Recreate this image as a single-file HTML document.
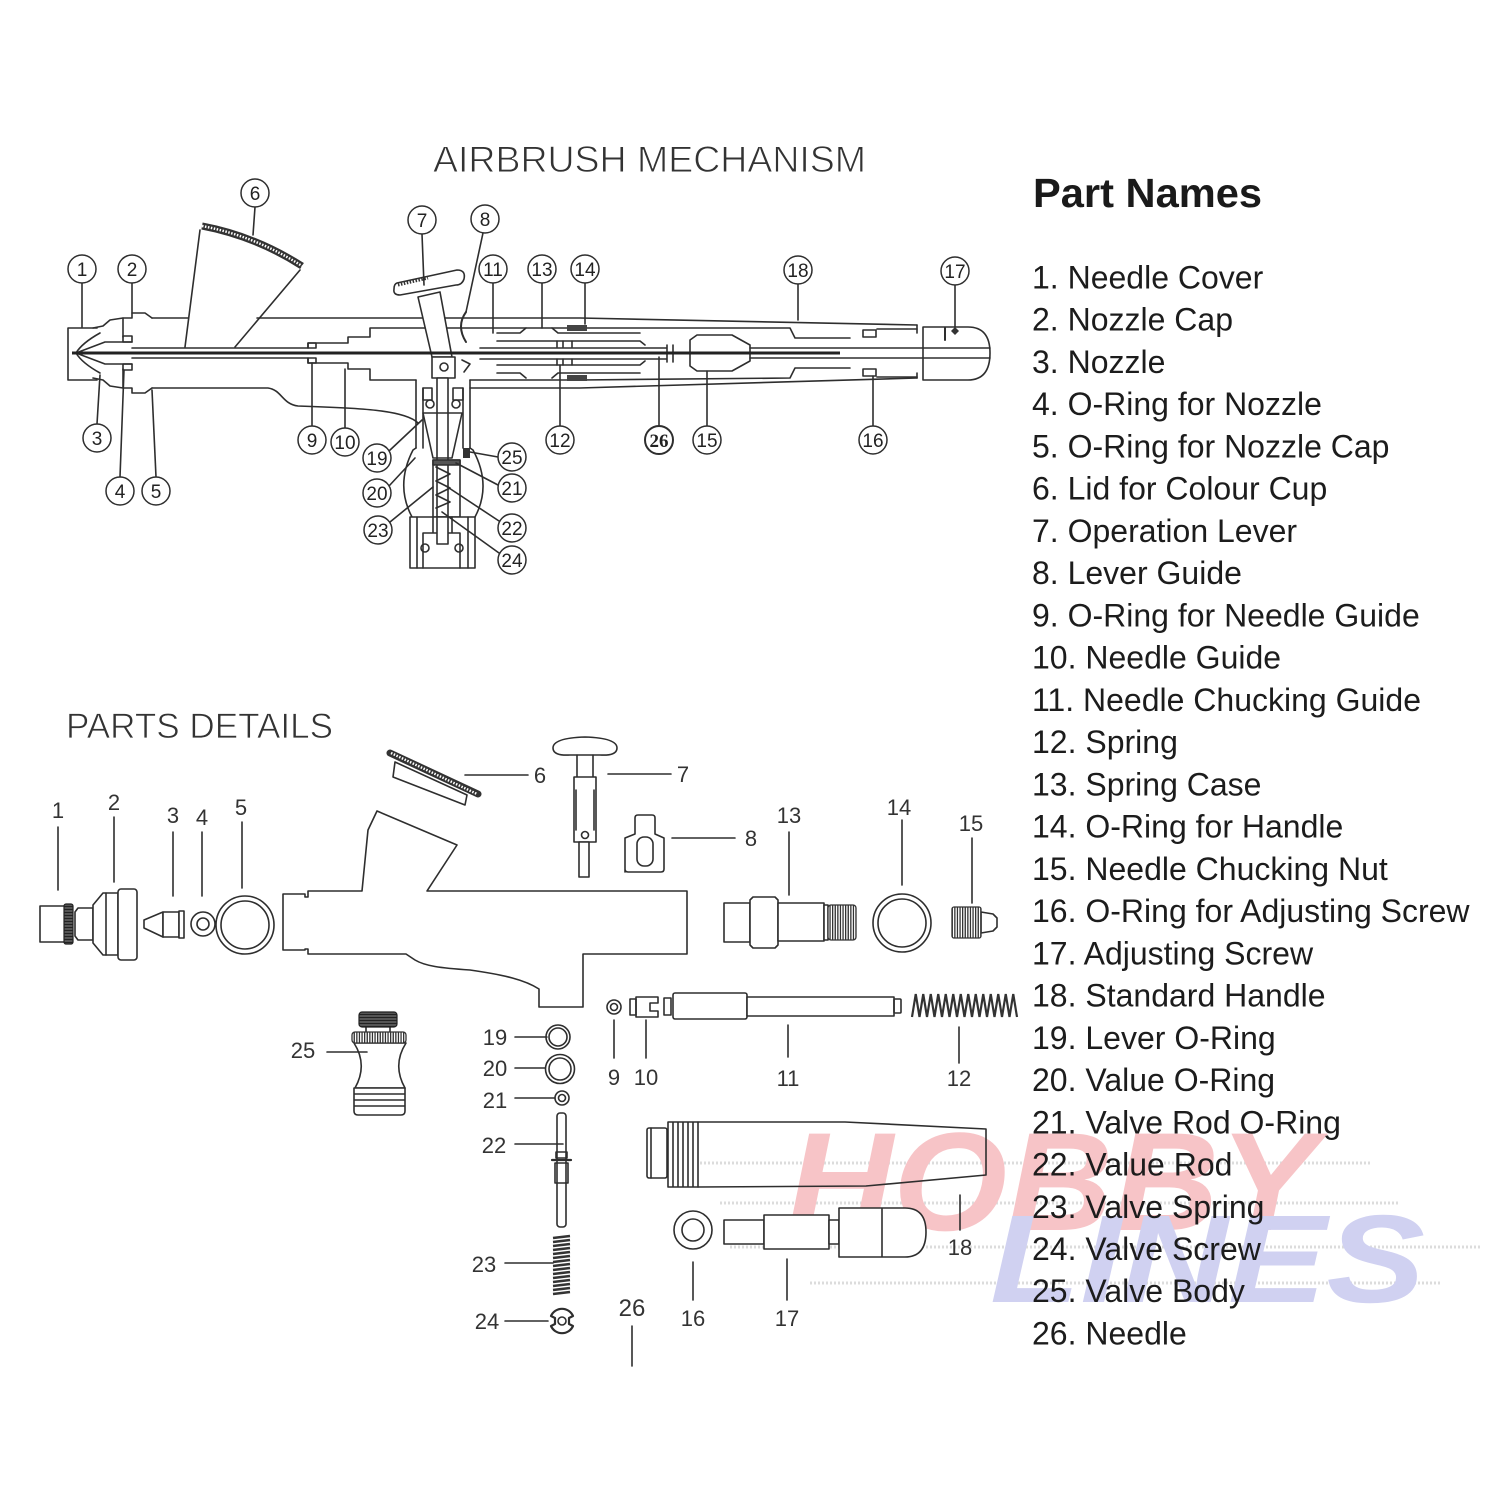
<!DOCTYPE html>
<html><head><meta charset="utf-8">
<style>
html,body{margin:0;padding:0;background:#fff;}
svg{display:block}
.l{fill:none;stroke:#2e2e2e;stroke-width:1.6;stroke-linejoin:round;stroke-linecap:round}
.c{fill:#fff;stroke:#2e2e2e;stroke-width:1.5}
.n{font-family:"Liberation Sans",sans-serif;font-size:19px;fill:#222;text-anchor:middle}
.p{font-family:"Liberation Sans",sans-serif;font-size:22px;fill:#333;text-anchor:middle}
.li{font-family:"Liberation Sans",sans-serif;font-size:32px;fill:#1c1c1c}
</style></head><body>
<svg width="1500" height="1500" viewBox="0 0 1500 1500" xmlns="http://www.w3.org/2000/svg">
<defs>
<pattern id="vk" width="2.6" height="10" patternUnits="userSpaceOnUse"><rect width="2.6" height="10" fill="#fff"/><rect width="1.3" height="10" fill="#333"/></pattern>
<pattern id="hk" width="10" height="3" patternUnits="userSpaceOnUse"><rect width="10" height="3" fill="#555"/><rect width="10" height="1" fill="#222"/></pattern>
</defs>
<rect width="1500" height="1500" fill="#fff"/>

<!-- watermark -->
<g stroke="#dcdcdc" stroke-width="3" stroke-dasharray="2 2">
<line x1="700" y1="1163" x2="1370" y2="1163"/>
<line x1="720" y1="1203" x2="1400" y2="1203"/>
<line x1="730" y1="1247" x2="1480" y2="1247"/>
<line x1="810" y1="1283" x2="1440" y2="1283"/>
</g>
<text x="787" y="1230" font-family="'Liberation Sans',sans-serif" font-size="140" font-weight="bold" font-style="italic" fill="#f7c4c7" textLength="530" lengthAdjust="spacingAndGlyphs">HOBBY</text>
<text x="990" y="1302" font-family="'Liberation Sans',sans-serif" font-size="125" font-weight="bold" font-style="italic" fill="#d0d1f1" textLength="435" lengthAdjust="spacingAndGlyphs">LINES</text>

<!-- titles -->
<text x="433" y="172" font-family="'Liberation Sans',sans-serif" font-size="37" fill="#333" stroke="#fff" stroke-width="0.9" textLength="433" lengthAdjust="spacingAndGlyphs">AIRBRUSH MECHANISM</text>
<text x="66" y="738" font-family="'Liberation Sans',sans-serif" font-size="35" fill="#333" stroke="#fff" stroke-width="0.8" textLength="267" lengthAdjust="spacingAndGlyphs">PARTS DETAILS</text>
<text x="1033" y="207" font-family="'Liberation Sans',sans-serif" font-size="41" font-weight="bold" fill="#1a1a1a" textLength="229" lengthAdjust="spacingAndGlyphs">Part Names</text>

<!-- list -->
<g class="li">
<text x="1032" y="288.5">1. Needle Cover</text>
<text x="1032" y="330.7">2. Nozzle Cap</text>
<text x="1032" y="373">3. Nozzle</text>
<text x="1032" y="415.2">4. O-Ring for Nozzle</text>
<text x="1032" y="457.5">5. O-Ring for Nozzle Cap</text>
<text x="1032" y="499.7">6. Lid for Colour Cup</text>
<text x="1032" y="541.9">7. Operation Lever</text>
<text x="1032" y="584.2">8. Lever Guide</text>
<text x="1032" y="626.4">9. O-Ring for Needle Guide</text>
<text x="1032" y="668.7">10. Needle Guide</text>
<text x="1032" y="710.9">11.  Needle Chucking Guide</text>
<text x="1032" y="753.1">12. Spring</text>
<text x="1032" y="795.4">13. Spring Case</text>
<text x="1032" y="837.6">14. O-Ring for Handle</text>
<text x="1032" y="879.9">15. Needle Chucking Nut</text>
<text x="1032" y="922.1">16. O-Ring for Adjusting Screw</text>
<text x="1032" y="964.3">17. Adjusting Screw</text>
<text x="1032" y="1006.6">18. Standard Handle</text>
<text x="1032" y="1048.8">19. Lever O-Ring</text>
<text x="1032" y="1091">20. Value O-Ring</text>
<text x="1032" y="1133.3">21. Valve Rod O-Ring</text>
<text x="1032" y="1175.5">22. Value Rod</text>
<text x="1032" y="1217.8">23. Valve Spring</text>
<text x="1032" y="1260">24. Valve Screw</text>
<text x="1032" y="1302.2">25. Valve Body</text>
<text x="1032" y="1344.5">26. Needle</text>
</g>

<!-- ================= TOP MECHANISM ================= -->
<g class="l">
<path d="M97,328 L68,328 L68,380 L97,380"/>
<path d="M100,333 Q82,343 76,353 Q82,363 100,373"/>
<path d="M93,328 L103,326 L110,320 L123,318 L132,318 L132,313 L145,313 L152,318"/>
<path d="M93,378 L103,380 L110,386 L123,388 L132,388 L132,393 L145,393 L152,388"/>
<path d="M123,318 L123,337 M123,369 L123,388"/>
<path d="M76,353 L105,342 L132,342 M76,353 L105,364 L132,364"/>
<rect x="123" y="336" width="9" height="6"/>
<rect x="123" y="364" width="9" height="6"/>
<path d="M152,318 L188,318 M257,318 L580,318 L917,325"/>
<path d="M152,388 L268,388 C282,390 282,404 298,406 C360,408 405,410 418,423"/>
<path d="M470,388 L580,388 L917,378"/>
<path d="M132,348 L308,348 L308,343 L348,343 L348,337 L370,337 L370,328 L580,328 L790,328 L795,338 L850,338"/>
<path d="M132,358 L308,358 L308,363 L348,363 L348,369 L370,369 L370,380 L416,380 M470,380 L580,380 L790,378 L795,368 L850,368"/>
<path d="M877,329 L917,329 M877,377 L917,377"/>
<rect x="863" y="330" width="13" height="7"/>
<rect x="863" y="369" width="13" height="7"/>
<rect x="308" y="343" width="8" height="5"/>
<rect x="308" y="358" width="8" height="5"/>
<path d="M497,333 L520,333 L526,328 M497,373 L520,373 L526,378"/>
<path d="M497,341 L640,341 L645,345 M497,365 L640,365 L645,361"/>
<path d="M552,328 L558,333 L640,333 M552,378 L558,373 L640,373"/>
<path d="M557,341 L557,347 M563,341 L563,347 M572,341 L572,347 M557,359 L557,365 M563,359 L563,365 M572,359 L572,365"/>
<path d="M480,348 L667,348 M480,359 L667,359 M667,345 L667,362 M673,345 L673,362"/>
<polygon points="690,340 697,335 732,335 750,345 750,361 732,371 697,371 690,366" fill="#fff"/>
<path d="M750,348 L990,348 M750,358 L990,358"/>
<path d="M917,325 L917,333 M917,373 L917,378 M923,327 L968,327 Q990,327 990,353 Q990,380 968,380 L923,380 L923,327"/>
<path d="M945,328 L945,340" stroke-width="2"/>
<path d="M200,230 L185,347 M300,270 L235,347"/>
<path d="M397,283 L457,270 Q466,270 464,279 Q462,285 456,285 L400,295 Q393,295 394,289 Q394,284 397,283 Z" fill="#fff"/>
<polygon points="418,297 440,292 452,357 432,357" fill="#fff"/>
<rect x="432" y="357" width="23" height="21" fill="#fff"/>
<circle cx="444" cy="367" r="4"/>
<path d="M462,360 L470,364 L464,372"/>
<path d="M466,312 Q456,326 466,342" stroke-width="2"/>
<path d="M416,380 L416,448 M470,380 L470,448 M423,388 L423,448 M463,388 L463,448"/>
<rect x="437" y="378" width="11" height="167" fill="#fff"/>
<rect x="423" y="388" width="9" height="12"/>
<rect x="453" y="388" width="10" height="12"/>
<circle cx="430" cy="404" r="4"/>
<circle cx="456" cy="404" r="4"/>
<polygon points="423,413 462,413 452,458 433,458"/>
<path d="M416,448 L413,450 Q395,485 412,517 M470,448 L473,450 Q492,485 475,517"/>
<rect x="433" y="460" width="27" height="57"/>
<rect x="433" y="460" width="27" height="5" fill="#555"/>
<polyline points="436,467 450,474 436,481 450,488 436,495 450,502 436,508"/>
<rect x="410" y="517" width="65" height="51" fill="#fff"/>
<path d="M417,517 L417,568 M423,533 L423,568 M460,533 L460,568 M468,517 L468,568 M423,533 L460,533 M433,517 L433,533 M452,517 L452,533"/>
<rect x="437" y="517" width="11" height="27" fill="#fff"/>
<circle cx="425" cy="548" r="4"/>
<circle cx="459" cy="548" r="4"/>
</g>
<path d="M72,353 L840,353" stroke="#222" stroke-width="3"/>
<path d="M202,226 Q255,236 302,266" stroke="#333" stroke-width="7" fill="none"/>
<path d="M202,226 Q255,236 302,266" stroke="#fff" stroke-width="2.5" stroke-dasharray="1.5 1.5" fill="none"/>
<path d="M398,285 L428,278" stroke="#333" stroke-width="3" stroke-dasharray="1.5 1.5"/>
<rect x="567" y="325" width="20" height="6" fill="#444"/>
<rect x="567" y="375" width="20" height="6" fill="#444"/>
<rect x="463" y="448" width="7" height="10" fill="#333"/>
<path d="M951,331 L955,327 L959,331 L955,335 Z" fill="#333"/>

<g class="l" stroke-width="1.3">
<path d="M82,283 L82,327"/>
<path d="M132,283 L132,313"/>
<path d="M255,207 L253,235"/>
<path d="M422,234 L424,285"/>
<path d="M483,233 L466,312"/>
<path d="M493,283 L493,333"/>
<path d="M542,283 L542,328"/>
<path d="M585,283 L585,324"/>
<path d="M798,284 L798,320"/>
<path d="M955,285 L955,327"/>
<path d="M97,424 L100,375"/>
<path d="M120,477 L124,370"/>
<path d="M156,477 L152,390"/>
<path d="M312,426 L312,363"/>
<path d="M345,428 L345,369"/>
<path d="M560,426 L560,365"/>
<path d="M659,426 L659,357"/>
<path d="M707,426 L707,371"/>
<path d="M873,426 L873,376"/>
<path d="M389,451 L422,420"/>
<path d="M389,486 L415,458"/>
<path d="M390,522 L433,487"/>
<path d="M498,457 L470,452"/>
<path d="M498,485 L456,463"/>
<path d="M499,521 L446,486"/>
<path d="M499,553 L442,512"/>
</g>
<g>
<g class="c">
<circle cx="82" cy="269" r="14"/><circle cx="132" cy="269" r="14"/><circle cx="255" cy="193" r="14"/>
<circle cx="422" cy="220" r="14"/><circle cx="485" cy="219" r="14"/><circle cx="493" cy="269" r="14"/>
<circle cx="542" cy="269" r="14"/><circle cx="585" cy="269" r="14"/><circle cx="798" cy="270" r="14"/>
<circle cx="955" cy="271" r="14"/><circle cx="97" cy="438" r="14"/><circle cx="120" cy="491" r="14"/>
<circle cx="156" cy="491" r="14"/><circle cx="312" cy="440" r="14"/><circle cx="345" cy="442" r="14"/>
<circle cx="560" cy="440" r="14"/><circle cx="659" cy="440" r="14" stroke-width="2"/><circle cx="707" cy="440" r="14"/>
<circle cx="873" cy="440" r="14"/><circle cx="377" cy="458" r="14"/><circle cx="377" cy="493" r="14"/>
<circle cx="378" cy="530" r="14"/><circle cx="512" cy="457" r="14"/><circle cx="512" cy="488" r="14"/>
<circle cx="512" cy="528" r="14"/><circle cx="512" cy="560" r="14"/>
</g>
<g class="n">
<text x="82" y="276">1</text><text x="132" y="276">2</text><text x="255" y="200">6</text>
<text x="422" y="227">7</text><text x="485" y="226">8</text><text x="493" y="276">11</text>
<text x="542" y="276">13</text><text x="585" y="276">14</text><text x="798" y="277">18</text>
<text x="955" y="278">17</text><text x="97" y="445">3</text><text x="120" y="498">4</text>
<text x="156" y="498">5</text><text x="312" y="447">9</text><text x="345" y="449">10</text>
<text x="560" y="447">12</text><text x="707" y="447">15</text>
<text x="873" y="447">16</text><text x="377" y="465">19</text><text x="377" y="500">20</text>
<text x="378" y="537">23</text><text x="512" y="464">25</text><text x="512" y="495">21</text>
<text x="512" y="535">22</text><text x="512" y="567">24</text>
<text x="659" y="447" font-family="'Liberation Serif',serif" font-weight="bold">26</text>
</g>
</g>

<!-- ================= PARTS DETAILS ================= -->
<g class="l">
<rect x="40" y="906" width="25" height="36" fill="#fff"/>
<path d="M78,908 L93,908 L93,940 L78,940 L75,936 L75,912 Z" fill="#fff"/>
<path d="M93,905 L103,893 L118,893 L118,955 L103,955 L93,943 Z" fill="#fff"/>
<path d="M106,893 L106,955"/>
<rect x="118" y="889" width="19" height="71" rx="3" fill="#fff"/>
<polygon points="144,920 144,928 163,937 163,912" fill="#fff"/>
<rect x="163" y="912" width="16" height="25" fill="#fff"/>
<rect x="179" y="911" width="5" height="27" fill="#fff"/>
<circle cx="203" cy="924" r="12"/><circle cx="203" cy="924" r="6"/>
<circle cx="245" cy="925" r="29"/><circle cx="245" cy="925" r="24"/>
<path d="M283,894 L305,894 L305,897 L308,897 L308,891 L362,891 L368,830 L377,811 L457,845 L427,891 L687,891 L687,954 L583,954 L583,1007 L539,1007 L539,989 C525,980 505,975 470,970 C440,968 425,966 415,960 L406,954 L311,954 L308,954 L308,949 L305,949 L305,950 L283,950 Z" fill="#fff"/>
<polygon points="395,762 393,777 465,805 467,795" fill="#fff"/>
<path d="M553,748 Q553,738 585,737 Q617,738 617,748 Q617,756 600,755 L570,755 Q553,756 553,748 Z" fill="#fff"/>
<path d="M577,755 L577,777 M593,755 L593,777"/>
<path d="M574,777 L596,777 L596,842 L574,842 Z M576,790 L576,830 M594,790 L594,830" fill="#fff"/>
<circle cx="585" cy="835" r="3.5"/>
<rect x="579" y="842" width="10" height="35" fill="#fff"/>
<path d="M625,872 L625,838 L635,834 L635,818 Q635,815 638,815 L652,815 Q655,815 655,818 L655,834 L664,838 L664,869 Q664,872 661,872 L628,872 Q625,872 625,869 Z" fill="#fff"/>
<rect x="637" y="837" width="16" height="29" rx="7"/>
<rect x="724" y="903" width="26" height="39" fill="#fff"/>
<polygon points="750,900 753,897 775,897 778,900 778,945 775,948 753,948 750,945" fill="#fff"/>
<rect x="778" y="903" width="46" height="38" fill="#fff"/>
<rect x="824" y="905" width="4" height="35" fill="#fff"/>
<circle cx="902" cy="923" r="29"/><circle cx="902" cy="923" r="24"/>
<polygon points="981,912 993,914 997,918 997,927 993,931 981,933" fill="#fff"/>
<circle cx="614" cy="1007" r="7"/><circle cx="614" cy="1007" r="3.5"/>
<rect x="630" y="999" width="6" height="16"/>
<path d="M636,997 L658,997 L658,1003 L650,1003 L650,1011 L658,1011 L658,1017 L636,1017 Z"/>
<rect x="664" y="998" width="7" height="17"/>
<rect x="673" y="993" width="74" height="26" rx="2" fill="#fff"/>
<rect x="747" y="997" width="147" height="19" fill="#fff"/>
<rect x="894" y="999" width="7" height="14" rx="1"/>
<path d="M366,1027 L366,1032 M390,1027 L390,1032"/>
<path d="M354,1043 Q368,1065 355,1088 L405,1088 Q392,1065 406,1043 Z" fill="#fff"/>
<path d="M354,1088 L405,1088 L405,1111 Q405,1115 401,1115 L358,1115 Q354,1115 354,1111 Z M354,1094 L405,1094 M354,1100 L405,1100 M354,1106 L405,1106" fill="#fff"/>
<circle cx="558" cy="1037" r="12"/><circle cx="558" cy="1037" r="9"/>
<circle cx="560" cy="1069" r="14.5"/><circle cx="560" cy="1069" r="11"/>
<circle cx="562" cy="1098" r="7"/><circle cx="562" cy="1098" r="3.5"/>
<rect x="557" y="1113" width="9" height="114" rx="3" fill="#fff"/>
<path d="M552,1160 L571,1160" stroke-width="2.2"/>
<rect x="556" y="1152" width="11" height="6"/>
<rect x="555" y="1163" width="13" height="20"/>
<path d="M551,1316 A12,12 0 0 1 573,1316 L569,1318 L569,1324 L573,1326 A12,12 0 0 1 551,1326 L555,1324 L555,1318 Z" stroke-width="2.2"/>
<circle cx="562" cy="1321" r="4"/>
<rect x="647" y="1128" width="20" height="50" rx="2" fill="#fff"/>
<path d="M651,1128 L651,1178"/>
<path d="M668,1122 L698,1122 L698,1187 L668,1187 Z M673,1122 L673,1187 M678,1122 L678,1187 M683,1122 L683,1187 M688,1122 L688,1187 M693,1122 L693,1187" fill="#fff"/>
<path d="M698,1122 L845,1122 L986,1129 L986,1175 L866,1186 L698,1187"/>
<circle cx="693" cy="1230" r="19"/><circle cx="693" cy="1230" r="11"/>
<rect x="724" y="1220" width="40" height="24" fill="#fff"/>
<rect x="764" y="1215" width="65" height="34" fill="#fff"/>
<rect x="829" y="1220" width="10" height="24" fill="#fff"/>
<path d="M839,1208 L905,1208 Q926,1208 926,1232 Q926,1257 905,1257 L839,1257 Z M882,1208 L882,1257" fill="#fff"/>
</g>
<rect x="64" y="904" width="9" height="40" rx="2" fill="url(#hk)" stroke="#222" stroke-width="1.2"/>
<rect x="828" y="905" width="28" height="35" rx="3" fill="url(#vk)" stroke="#333" stroke-width="1.3"/>
<rect x="952" y="907" width="29" height="31" rx="2" fill="url(#vk)" stroke="#333" stroke-width="1.3"/>
<rect x="359" y="1012" width="38" height="15" rx="3" fill="url(#hk)" stroke="#222" stroke-width="1.2"/>
<rect x="352" y="1032" width="54" height="11" rx="3" fill="url(#vk)" stroke="#333" stroke-width="1.3"/>
<path d="M390,753 L478,794" stroke="#333" stroke-width="7" stroke-linecap="round"/>
<path d="M391,753 L477,794" stroke="#fff" stroke-width="2.5" stroke-dasharray="1.5 1.5"/>
<polyline fill="none" stroke="#333" stroke-width="2.2" points="912,1017 915.75,994 919.5,1017 923.25,994 927,1017 930.75,994 934.5,1017 938.25,994 942,1017 945.75,994 949.5,1017 953.25,994 957,1017 960.75,994 964.5,1017 968.25,994 972,1017 975.75,994 979.5,1017 983.25,994 987,1017 990.75,994 994.5,1017 998.25,994 1002,1017 1005.75,994 1009.5,1017 1013.25,994 1017,1017"/>
<g stroke="#333" stroke-width="2.5">
<line x1="553" y1="1238" x2="570" y2="1236"/><line x1="553" y1="1242" x2="570" y2="1240"/><line x1="553" y1="1246" x2="570" y2="1244"/><line x1="553" y1="1250" x2="570" y2="1248"/><line x1="553" y1="1254" x2="570" y2="1252"/><line x1="553" y1="1258" x2="570" y2="1256"/><line x1="553" y1="1262" x2="570" y2="1260"/><line x1="553" y1="1266" x2="570" y2="1264"/><line x1="553" y1="1270" x2="570" y2="1268"/><line x1="553" y1="1274" x2="570" y2="1272"/><line x1="553" y1="1278" x2="570" y2="1276"/><line x1="553" y1="1282" x2="570" y2="1280"/><line x1="553" y1="1286" x2="570" y2="1284"/><line x1="553" y1="1290" x2="570" y2="1288"/><line x1="553" y1="1294" x2="570" y2="1292"/>
</g>
<g class="l" stroke-width="1.3">
<path d="M58,827 L58,890"/><path d="M114,817 L114,882"/><path d="M173,832 L173,896"/>
<path d="M202,832 L202,896"/><path d="M242,822 L242,888"/>
<path d="M465,775 L528,775"/><path d="M608,774 L671,774"/><path d="M672,838 L735,838"/>
<path d="M789,832 L789,895"/><path d="M902,820 L902,885"/><path d="M972,838 L972,903"/>
<path d="M614,1020 L614,1058"/><path d="M646,1020 L646,1058"/><path d="M788,1025 L788,1057"/><path d="M959,1027 L959,1063"/>
<path d="M327,1052 L367,1052"/><path d="M515,1037 L547,1037"/><path d="M515,1068 L545,1068"/>
<path d="M515,1098 L555,1098"/><path d="M515,1144 L563,1144"/><path d="M505,1263 L553,1263"/>
<path d="M505,1321 L548,1321"/><path d="M632,1326 L632,1366"/><path d="M960,1195 L960,1230"/>
<path d="M693,1262 L693,1300"/><path d="M787,1259 L787,1300"/>
</g>
<g class="p">
<text x="58" y="818">1</text><text x="114" y="810">2</text><text x="173" y="823">3</text>
<text x="202" y="825">4</text><text x="241" y="815">5</text><text x="540" y="783">6</text>
<text x="683" y="782">7</text><text x="751" y="846">8</text><text x="789" y="823">13</text>
<text x="899" y="815">14</text><text x="971" y="831">15</text><text x="614" y="1085">9</text>
<text x="646" y="1085">10</text><text x="788" y="1086">11</text><text x="959" y="1086">12</text>
<text x="303" y="1058">25</text><text x="495" y="1045">19</text><text x="495" y="1076">20</text>
<text x="495" y="1108">21</text><text x="494" y="1153">22</text><text x="484" y="1272">23</text>
<text x="487" y="1329">24</text><text x="632" y="1316" font-size="24">26</text>
<text x="693" y="1326">16</text><text x="787" y="1326">17</text><text x="960" y="1255">18</text>
</g>
</svg>
</body></html>
